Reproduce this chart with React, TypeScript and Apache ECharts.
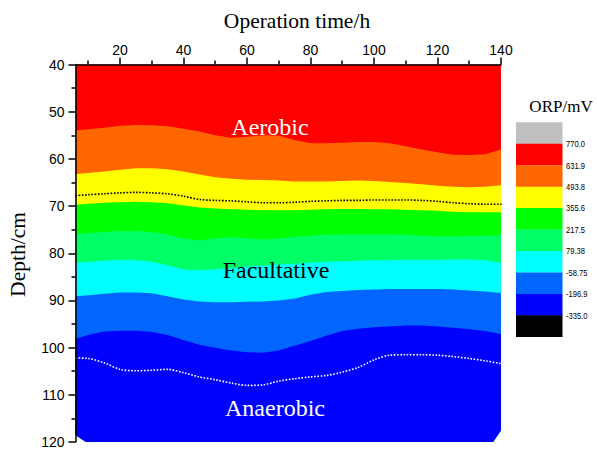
import React, { useEffect, useRef } from 'react';
import * as echarts from 'echarts';

// ---------- data ----------
const TIMES = [6, 10, 15, 20, 25, 30, 35, 40, 45, 50, 55, 60, 65, 70, 75, 80, 85, 90, 95, 100, 105, 110, 115, 120, 125, 130, 135, 140];

// contour boundaries (depth, cm) between successive ORP bands
const B_631 = [54.0, 53.7, 53.4, 53.0, 52.8, 52.9, 53.1, 53.6, 54.2, 55.0, 55.5, 55.3, 55.0, 55.1, 56.0, 56.7, 56.7, 56.6, 56.4, 56.4, 56.7, 57.3, 58.0, 58.6, 59.1, 59.2, 59.0, 58.0];
const B_493 = [63.2, 63.0, 62.7, 62.3, 62.0, 62.0, 62.2, 62.7, 63.3, 63.9, 64.2, 64.4, 64.5, 64.6, 64.8, 64.8, 64.8, 64.7, 64.6, 64.7, 64.9, 65.1, 65.4, 65.7, 65.9, 66.0, 65.9, 65.6];
const B_355 = [69.7, 69.5, 69.3, 69.2, 69.1, 69.2, 69.4, 69.9, 70.3, 70.5, 70.7, 70.8, 70.9, 70.9, 70.9, 70.8, 70.7, 70.6, 70.6, 70.7, 70.7, 70.8, 70.9, 71.0, 71.2, 71.3, 71.3, 71.3];
const B_217 = [75.9, 75.7, 75.5, 75.3, 75.3, 75.5, 76.0, 76.9, 77.3, 76.8, 76.6, 76.8, 77.1, 76.9, 76.5, 76.3, 76.1, 76.0, 76.0, 76.0, 76.0, 76.1, 76.3, 76.4, 76.4, 76.4, 76.3, 76.2];
const B_79 = [82.0, 81.8, 81.6, 81.4, 81.5, 81.8, 82.6, 83.4, 83.6, 83.4, 83.1, 82.8, 82.6, 82.4, 82.2, 82.0, 81.8, 81.7, 81.6, 81.5, 81.5, 81.4, 81.4, 81.4, 81.3, 81.3, 81.5, 82.0];
const B_M58 = [89.1, 88.9, 88.6, 88.3, 88.3, 88.5, 89.1, 89.8, 90.2, 90.4, 90.4, 90.3, 90.2, 90.0, 89.6, 88.8, 88.2, 88.0, 87.8, 87.7, 87.6, 87.6, 87.6, 87.6, 87.7, 87.9, 88.1, 88.4];
const B_M196 = [98.1, 97.3, 96.6, 96.4, 96.4, 96.7, 97.3, 98.4, 99.4, 100.0, 100.6, 101.0, 101.1, 100.6, 99.6, 98.6, 97.5, 96.5, 96.0, 95.7, 95.5, 95.3, 95.3, 95.5, 95.8, 96.1, 96.5, 97.1];

// domain edges of the contour map
const TOP_T = [6, 140];
const TOP_D = [40, 40];
const BOTTOM_T = [6, 9.3, 137.5, 140];
const BOTTOM_D = [118.5, 120, 120, 117.5];

// dotted zone dividers
const DOT_TIMES = [6, 10, 15, 20, 25, 30, 35, 40, 45, 50, 55, 60, 65, 70, 75, 80, 85, 90, 95, 100, 105, 110, 115, 120, 125, 130, 135, 140, 141.3];
const AEROBIC_LINE = [67.8, 67.6, 67.4, 67.2, 67.1, 67.2, 67.4, 67.9, 68.6, 68.8, 68.9, 69.1, 69.3, 69.3, 69.2, 69.0, 68.9, 68.8, 68.8, 68.7, 68.7, 68.7, 68.8, 69.0, 69.3, 69.5, 69.6, 69.6, 69.6];
const ANAEROBIC_LINE = [102.2, 102.3, 103.2, 104.6, 104.9, 104.8, 104.6, 105.3, 106.2, 106.8, 107.5, 108.0, 107.9, 107.1, 106.6, 106.2, 105.9, 105.2, 104.2, 102.6, 101.6, 101.5, 101.5, 101.6, 101.9, 102.3, 102.8, 103.4, 103.6];

const BOUNDARIES = [B_631, B_493, B_355, B_217, B_79, B_M58, B_M196];
const BAND_COLORS = ['#FF0000', '#FF6600', '#FFFF00', '#00FF00', '#00FF66', '#00FFFF', '#0066FF', '#0000FF'];

const LEGEND_COLORS = ['#C0C0C0', '#FF0000', '#FF6600', '#FFFF00', '#00FF00', '#00FF66', '#00FFFF', '#0066FF', '#0000FF', '#000000'];
const LEGEND_LABELS = ['770.0', '631.9', '493.8', '355.6', '217.5', '79.38', '-58.75', '-196.9', '-335.0'];

const X_MAJOR = [20, 40, 60, 80, 100, 120, 140];
const X_MINOR = [10, 30, 50, 70, 90, 110, 130];

const ZONES = [
  { text: 'Aerobic', color: '#FFFFFF', x: 270, y: 127 },
  { text: 'Facultative', color: '#000000', x: 276, y: 270 },
  { text: 'Anaerobic', color: '#FFFFFF', x: 275, y: 408 },
];

const SERIF = '"Liberation Serif", "Times New Roman", serif';
const SANS = '"Liberation Sans", Arial, sans-serif';

function buildOption(): any {
  const legendTop = 122.3;
  const boxH = 21.45;
  const graphics: any[] = [];
  LEGEND_COLORS.forEach((c, i) => {
    graphics.push({
      type: 'rect',
      shape: { x: 516, y: legendTop + i * boxH, width: 46.5, height: boxH + 0.3 },
      style: { fill: c },
    });
  });
  LEGEND_LABELS.forEach((l, i) => {
    graphics.push({
      type: 'text',
      x: 566,
      y: legendTop + (i + 1) * boxH,
      scaleX: 0.8,
      style: { text: l, fill: '#000', font: `9.5px ${SANS}`, textAlign: 'left', textVerticalAlign: 'middle' },
    });
  });
  graphics.push({
    type: 'text',
    x: 561,
    y: 106,
    style: { text: 'ORP/mV', fill: '#000', font: `17px ${SERIF}`, textAlign: 'center', textVerticalAlign: 'middle' },
  });
  graphics.push({
    type: 'text',
    x: 297,
    y: 20.5,
    style: { text: 'Operation time/h', fill: '#000', font: `21.5px ${SERIF}`, textAlign: 'center', textVerticalAlign: 'middle' },
  });
  graphics.push({
    type: 'text',
    x: 18,
    y: 254.5,
    rotation: Math.PI / 2,
    style: { text: 'Depth/cm', fill: '#000', font: `21.5px ${SERIF}`, textAlign: 'center', textVerticalAlign: 'middle' },
  });
  ZONES.forEach((z) => {
    graphics.push({
      type: 'text',
      x: z.x,
      y: z.y,
      z: 20,
      style: { text: z.text, fill: z.color, font: `24px ${SERIF}`, textAlign: 'center', textVerticalAlign: 'middle' },
    });
  });

  const axisLineStyle = { color: '#000', width: 1.5 };

  return {
    animation: false,
    backgroundColor: '#fff',
    grid: { left: 75.5, right: 96, top: 64.5, bottom: 5, containLabel: false },
    xAxis: [
      {
        type: 'value',
        position: 'top',
        min: 6,
        max: 140,
        z: 10,
        axisLine: { show: true, lineStyle: axisLineStyle },
        axisTick: { show: true, length: 7, lineStyle: axisLineStyle, customValues: X_MAJOR },
        axisLabel: { show: true, customValues: X_MAJOR, color: '#000', fontSize: 14, fontFamily: SANS, margin: 8 },
        splitLine: { show: false },
      },
      {
        type: 'value',
        position: 'top',
        min: 6,
        max: 140,
        z: 10,
        axisLine: { show: false },
        axisTick: { show: true, length: 4, lineStyle: axisLineStyle, customValues: X_MINOR },
        axisLabel: { show: false },
        splitLine: { show: false },
      },
    ],
    yAxis: {
      type: 'value',
      inverse: true,
      min: 40,
      max: 120,
      interval: 10,
      z: 10,
      axisLine: { show: true, lineStyle: axisLineStyle },
      axisTick: { show: true, length: 7, lineStyle: axisLineStyle },
      minorTick: { show: true, splitNumber: 2, length: 4, lineStyle: axisLineStyle },
      axisLabel: { color: '#000', fontSize: 14, fontFamily: SANS, margin: 11 },
      splitLine: { show: false },
      minorSplitLine: { show: false },
    },
    series: [
      {
        type: 'custom',
        xAxisIndex: 0,
        yAxisIndex: 0,
        z: 1,
        silent: true,
        data: BAND_COLORS.map((_, i) => [i]),
        renderItem: (params: any, api: any) => {
          const i = params.dataIndex;
          const upT = i === 0 ? TOP_T : TIMES;
          const upD = i === 0 ? TOP_D : BOUNDARIES[i - 1];
          const pts: number[][] = [];
          upT.forEach((t, j) => pts.push(api.coord([t, upD[j]])));
          for (let j = BOTTOM_T.length - 1; j >= 0; j--) pts.push(api.coord([BOTTOM_T[j], BOTTOM_D[j]]));
          return { type: 'polygon', shape: { points: pts }, style: { fill: BAND_COLORS[i] } };
        },
      },
      {
        type: 'line',
        z: 5,
        clip: false,
        symbol: 'none',
        smooth: 0.3,
        data: DOT_TIMES.map((t, i) => [t, AEROBIC_LINE[i]]),
        lineStyle: { color: '#000', width: 1.6, type: [1.6, 1.6] },
      },
      {
        type: 'line',
        z: 5,
        clip: false,
        symbol: 'none',
        smooth: 0.3,
        data: DOT_TIMES.map((t, i) => [t, ANAEROBIC_LINE[i]]),
        lineStyle: { color: '#fff', width: 1.6, type: [1.6, 1.6] },
      },
    ],
    graphic: graphics,
  };
}

export default function App() {
  const ref = useRef<HTMLDivElement>(null);
  useEffect(() => {
    const chart = echarts.init(ref.current!, null, { renderer: 'svg' });
    chart.setOption(buildOption());
    return () => chart.dispose();
  }, []);
  return <div ref={ref} style={{ position: 'absolute', left: 0, top: 0, width: 597, height: 449 }} />;
}
